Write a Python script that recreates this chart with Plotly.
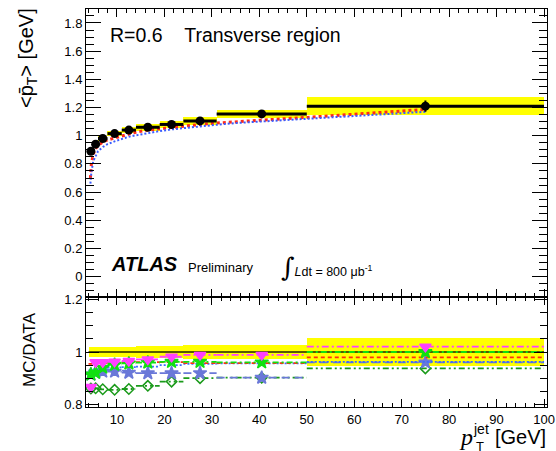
import plotly.graph_objects as go

# ---------------- data ----------------
bin_lo = [4, 5, 6, 8, 11, 14, 19, 24, 31, 50]
bin_hi = [5, 6, 8, 11, 14, 19, 24, 31, 50, 100]
data_pt = [0.89, 0.94, 0.98, 1.015, 1.04, 1.06, 1.08, 1.105, 1.155, 1.21]
data_stat = [0.006, 0.006, 0.006, 0.006, 0.006, 0.006, 0.007, 0.008, 0.012, 0.04]
data_syst = [0.018, 0.018, 0.018, 0.02, 0.02, 0.024, 0.026, 0.03, 0.031, 0.063]

mc_x = [4.4, 4.6, 5, 5.5, 6, 7, 8, 9.5, 11, 12.5, 14, 16.5, 19, 21.5, 24, 27.5,
        31, 35, 40, 45, 50, 55, 60, 65, 70, 75]
mc_red = [0.70, 0.80, 0.87, 0.91, 0.93, 0.955, 0.97, 0.985, 1.0, 1.015, 1.025, 1.04,
          1.05, 1.06, 1.07, 1.08, 1.09, 1.10, 1.11, 1.12, 1.13, 1.14, 1.155, 1.165,
          1.175, 1.187]
mc_blue = [0.66, 0.74, 0.82, 0.86, 0.89, 0.92, 0.94, 0.96, 0.978, 0.993, 1.003, 1.02,
           1.033, 1.045, 1.055, 1.068, 1.078, 1.09, 1.10, 1.108, 1.118, 1.128, 1.14,
           1.15, 1.16, 1.17]

ratio_magenta = [0.868, 0.961, 0.961, 0.963, 0.966, 0.972, 0.982, 0.989, 0.989, 1.02]
ratio_green = [0.915, 0.922, 0.941, 0.952, 0.957, 0.96, 0.963, 0.963, 0.961, 1.0]
ratio_red = [0.955, 0.957, 0.958, 0.96, 0.96, 0.962, 0.962, 0.958, 0.958, 0.98]
ratio_blue = [0.93, 0.935, 0.94, 0.942, 0.943, 0.945, 0.95, 0.955, 0.957, 0.963]
ratio_slate = [0.915, 0.922, 0.926, 0.926, 0.922, 0.92, 0.92, 0.92, 0.903, 0.961]
ratio_diamond = [0.862, 0.863, 0.859, 0.857, 0.860, 0.872, 0.888, 0.901, 0.903, 0.938]

x_ticks = [10, 20, 30, 40, 50, 60, 70, 80, 90, 100]

# ---------------- derived ----------------
centers = [(a + b) / 2 for a, b in zip(bin_lo, bin_hi)]
widths = [b - a for a, b in zip(bin_lo, bin_hi)]
half_w = [w / 2 for w in widths]
rel_syst = [s / d for s, d in zip(data_syst, data_pt)]


def steps(vals):
    xs, ys = [], []
    for a, b, v in zip(bin_lo, bin_hi, vals):
        xs += [a, b, None]
        ys += [v, v, None]
    return xs, ys


FONT = "Liberation Sans, Arial, Helvetica, sans-serif"
fig = go.Figure()

# top panel: yellow band
fig.add_trace(go.Bar(x=centers, y=[2 * s for s in data_syst],
                     base=[d - s for d, s in zip(data_pt, data_syst)],
                     width=widths, marker=dict(color="#ffff00", line=dict(width=0)),
                     xaxis="x2", yaxis="y2", showlegend=False, hoverinfo="skip"))
# MC curves
fig.add_trace(go.Scatter(x=mc_x, y=mc_red, mode="lines",
                         line=dict(color="#ff2a1a", width=3, dash="3px,3px"),
                         xaxis="x2", yaxis="y2", showlegend=False))
fig.add_trace(go.Scatter(x=mc_x, y=mc_blue, mode="lines",
                         line=dict(color="#3a5cff", width=2, dash="2px,2px"),
                         xaxis="x2", yaxis="y2", showlegend=False))
# data
fig.add_trace(go.Scatter(x=centers, y=data_pt, mode="markers",
                         marker=dict(color="black", size=9, symbol="circle"),
                         error_x=dict(type="data", array=half_w, color="black",
                                      thickness=3, width=0),
                         error_y=dict(type="data", array=data_stat, color="black",
                                      thickness=2, width=0),
                         xaxis="x2", yaxis="y2", showlegend=False))

# bottom panel: band
fig.add_trace(go.Bar(x=centers, y=[2 * r for r in rel_syst],
                     base=[1 - r for r in rel_syst], width=widths,
                     marker=dict(color="#ffff00", line=dict(width=0)),
                     xaxis="x", yaxis="y", showlegend=False, hoverinfo="skip"))
fig.add_trace(go.Scatter(x=[bin_lo[0], bin_hi[-1]], y=[1, 1], mode="lines",
                         line=dict(color="#222200", width=1.5),
                         xaxis="x", yaxis="y", showlegend=False))

series = [
    (ratio_diamond, "#1a9a1a", "6px,3px,2px,3px,2px,3px", "diamond-open", 8),
    (ratio_slate, "#6a78d8", "8px,5px", "star", 10),
    (ratio_blue, "#3a6cff", "2px,2px", None, 0),
    (ratio_red, "#ff3010", "4px,3px", None, 0),
    (ratio_green, "#10e010", "6px,3px,2px,3px", "star", 10),
    (ratio_magenta, "#ff40ff", "7px,3px,2px,3px", "triangle-down", 10),
]
for vals, col, dash, sym, size in series:
    xs, ys = steps(vals)
    fig.add_trace(go.Scatter(x=xs, y=ys, mode="lines",
                             line=dict(color=col, width=1.8, dash=dash),
                             xaxis="x", yaxis="y", showlegend=False))
    if sym:
        fig.add_trace(go.Scatter(x=centers, y=vals, mode="markers",
                                 marker=dict(color=col, size=size, symbol=sym,
                                             line=dict(color=col, width=1.5)),
                                 xaxis="x", yaxis="y", showlegend=False))

split = 110 / 398
xr = [3.47, 100.63]
common_x = dict(range=xr, showline=True, linecolor="black", linewidth=1, mirror="ticks",
                ticks="inside", ticklen=8, tickcolor="black", tickvals=x_ticks,
                minor=dict(dtick=2, ticks="inside", ticklen=4, tickcolor="black"),
                showgrid=False, zeroline=False)

fig.update_layout(
    width=556, height=451,
    margin=dict(l=86, r=9, t=9, b=44, pad=0, autoexpand=False),
    paper_bgcolor="white", plot_bgcolor="white",
    font=dict(family=FONT, color="black", size=12),
    barmode="overlay", bargap=0,
    xaxis=dict(**common_x, anchor="y", domain=[0, 1],
               tickfont=dict(size=13, family=FONT)),
    xaxis2=dict(**common_x, anchor="y2", domain=[0, 1], showticklabels=False,
                matches="x"),
    yaxis=dict(domain=[0, split], range=[0.792, 1.208], showline=True,
               linecolor="black", linewidth=1, mirror="ticks", ticks="inside",
               ticklen=13, tickcolor="black", tickvals=[0.8, 1, 1.2],
               ticktext=["0.8", "1", "1.2"],
               minor=dict(dtick=0.05, ticks="inside", ticklen=7, tickcolor="black"),
               showgrid=False, zeroline=False, tickfont=dict(size=13, family=FONT)),
    yaxis2=dict(domain=[split, 1], range=[-0.144, 1.899], showline=True,
                linecolor="black", linewidth=1, mirror="ticks", ticks="inside",
                ticklen=15, tickcolor="black", dtick=0.2, tick0=0,
                minor=dict(dtick=0.05, ticks="inside", ticklen=8, tickcolor="black"),
                showgrid=False, zeroline=False, tickfont=dict(size=13, family=FONT)),
)


def px(xp):
    return (xp - 86) / 461


def py(yp):
    return (407 - yp) / 398


def ann(text, xp, yp, size, xanchor="left", yanchor="middle", angle=0, family=FONT):
    fig.add_annotation(text=text, x=px(xp), y=py(yp), xref="paper", yref="paper",
                       showarrow=False, xanchor=xanchor, yanchor=yanchor,
                       textangle=angle, font=dict(size=size, family=family, color="black"))


ann("R=0.6\u00a0\u00a0\u00a0\u00a0Transverse region", 108, 35, 19.5)
ann("<b><i>ATLAS</i></b>", 109, 264, 20)
ann("Preliminary", 186, 267, 13)
ann("<span style=\"font-size:26px;font-family:DejaVu Serif\">\u222b</span>"
    "<i>L</i>dt = 800 \u03bcb<sup>-1</sup>", 279, 267, 12.5)
ann("<p\u0304<sub>T</sub>> [GeV]", 27, 58, 20, xanchor="center", angle=-90)
ann("MC/DATA", 29, 350, 17, xanchor="center", angle=-90)
ann("<i>p</i>", 466, 437, 24, xanchor="center", family="Liberation Serif")
ann("jet", 481, 429, 14, xanchor="center")
ann("T", 480, 446, 13, xanchor="center")
ann("[GeV]", 520, 437, 20, xanchor="center")

fig.write_html("out.html", config={"displayModeBar": False},
               post_script="document.body.style.margin='0';")
